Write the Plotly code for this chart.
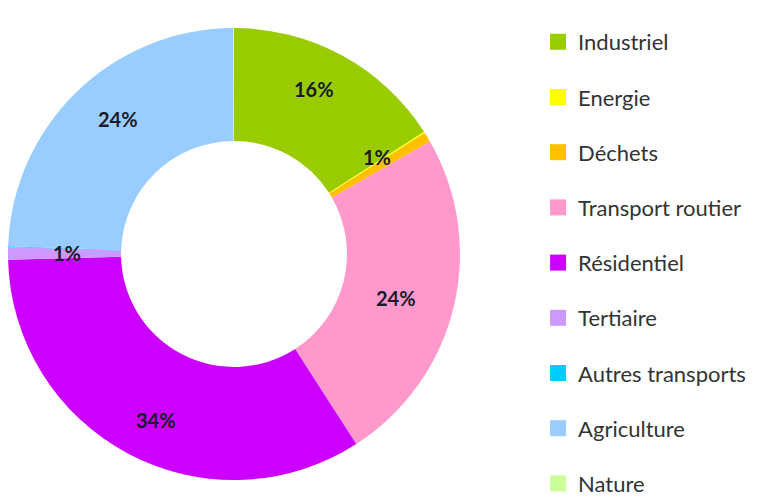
import math
import plotly.graph_objects as go

categories = ["Industriel", "Energie", "Déchets", "Transport routier", "Résidentiel",
              "Tertiaire", "Autres transports", "Agriculture", "Nature"]
values = [15.9, 0.1, 0.7, 24.2, 33.7, 0.9, 0.05, 24.4, 0.05]
colors = ["#99CC00", "#FFFF00", "#FFC000", "#FF99CC", "#CC00FF",
          "#CC99FF", "#00CCFF", "#99CCFF", "#CCFF99"]

W, H = 766, 497
HOLE = 0.5
# pie geometry in figure pixels
cx_px, cy_px, R = 226, 246, 226
dom_x = [max(0, (cx_px - R) / W), (cx_px + R) / W]
dom_y = [1 - (cy_px + R) / H, 1 - (cy_px - R) / H]

total = sum(values)
LABEL_FONT = dict(family="Lato", size=20, color="#1a1a2a", weight="bold")

fig = go.Figure()
fig.add_trace(go.Pie(
    labels=categories, values=values, hole=HOLE, sort=False,
    direction="clockwise", rotation=0,
    marker=dict(colors=colors, line=dict(width=0)),
    textinfo="none",
    domain=dict(x=dom_x, y=dom_y), showlegend=False, hoverinfo="label+percent",
))

# percentage labels at each slice's mid-angle, in the ring
annotations = []
cum = 0.0
for cat, v in zip(categories, values):
    frac = v / total
    mid = cum + frac / 2
    cum += frac
    if frac < 0.005:
        continue
    ang = mid * 2 * math.pi
    r = 0.77 * R
    px = cx_px + 0.96 * r * math.sin(ang)
    py = cy_px - 1.08 * r * math.cos(ang)
    annotations.append(dict(
        x=px / W, y=1 - py / H, xref="paper", yref="paper", showarrow=False,
        xanchor="center", yanchor="middle",
        text=f"{round(frac * 100):d}%", font=LABEL_FONT))

# legend entries
for cat, c in zip(categories, colors):
    fig.add_trace(go.Scatter(
        x=[None], y=[None], mode="markers", name=cat, legendgroup=cat,
        marker=dict(symbol="square", size=17, color=c), showlegend=True))

fig.update_layout(
    width=W, height=H, margin=dict(l=0, r=0, t=0, b=0),
    paper_bgcolor="white", plot_bgcolor="white",
    xaxis=dict(visible=False), yaxis=dict(visible=False),
    annotations=annotations,
    legend=dict(x=0.692, y=0.967, xanchor="left", yanchor="top",
                font=dict(family="Lato", size=22, color="#333333"),
                tracegroupgap=23.6, itemwidth=30, bgcolor="rgba(0,0,0,0)"),
)
fig.write_html("out.html")
